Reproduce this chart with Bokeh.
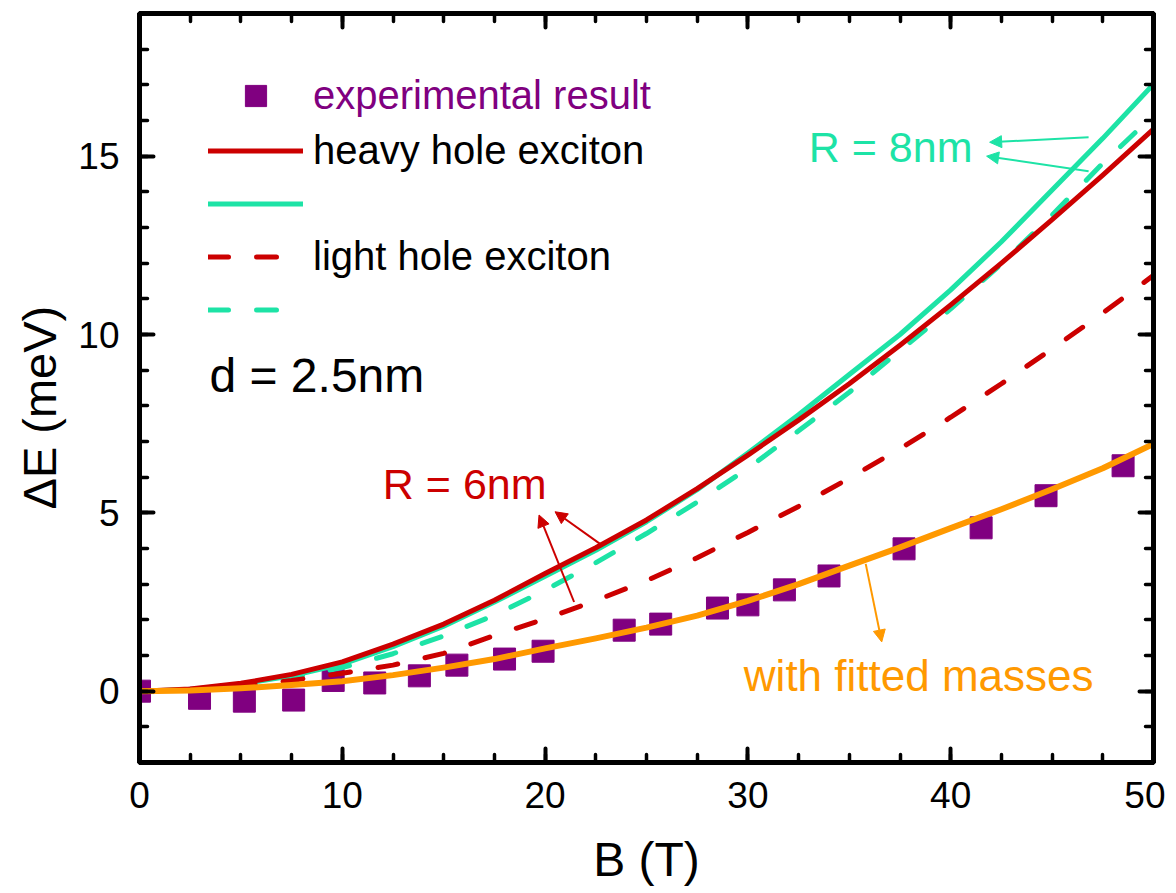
from bokeh.plotting import figure
from bokeh.models import (Range1d, FixedTicker, LinearAxis, Legend, LegendItem,
                          Label, Arrow, NormalHead, Title)
from bokeh.embed import file_html
from bokeh.resources import INLINE

# ---------------- data ----------------
B_exp = [0, 2.96, 5.17, 7.6, 9.55, 11.6, 13.8, 15.65, 18.0, 19.9, 23.9, 25.7,
         28.5, 30.0, 31.8, 34.0, 37.7, 41.5, 44.7, 48.5]
dE_exp = [0, -0.2, -0.28, -0.25, 0.3, 0.23, 0.43, 0.73, 0.9, 1.12, 1.71, 1.88,
          2.33, 2.42, 2.84, 3.23, 3.99, 4.58, 5.48, 6.32]

B_calc = [0, 2.5, 5, 7.5, 10, 12.5, 15, 17.5, 20, 22.5, 25, 27.5, 30, 32.5,
          35, 37.5, 40, 42.5, 45, 47.5, 50]
hh_R6 = [0, 0.06, 0.22, 0.47, 0.82, 1.32, 1.88, 2.55, 3.3, 4.02, 4.8, 5.68,
         6.62, 7.6, 8.62, 9.7, 10.83, 12.0, 13.22, 14.47, 15.76]
hh_R8 = [0, 0.05, 0.2, 0.43, 0.76, 1.25, 1.82, 2.5, 3.22, 3.95, 4.75, 5.65,
         6.68, 7.75, 8.88, 10.0, 11.25, 12.6, 14.05, 15.5, 17.02]
lh_R6 = [0, 0.03, 0.13, 0.3, 0.5, 0.73, 1.06, 1.56, 2.03, 2.54, 3.1, 3.74,
         4.45, 5.18, 5.97, 6.8, 7.68, 8.62, 9.6, 10.6, 11.66]
lh_R8 = [0, 0.04, 0.17, 0.38, 0.66, 1.05, 1.55, 2.13, 2.83, 3.6, 4.42, 5.3,
         6.25, 7.3, 8.38, 9.55, 10.72, 11.98, 13.35, 14.8, 16.15]
fitted = [0, 0.02, 0.08, 0.17, 0.28, 0.45, 0.66, 0.9, 1.2, 1.48, 1.78, 2.12,
          2.53, 3.0, 3.52, 4.03, 4.57, 5.1, 5.66, 6.25, 6.93]

x_major = [0, 10, 20, 30, 40, 50]
x_minor = [v * 2.5 for v in range(0, 21)]
y_major = [0, 5, 10, 15]
y_minor = list(range(-2, 20))

PURPLE = "#800080"
RED = "#CC0000"
GREEN = "#1DE3A6"
ORANGE = "#FF9900"
FONT = "Liberation Sans"

# ---------------- figure ----------------
p = figure(frame_width=1014, frame_height=749,
           x_range=Range1d(0, 50), y_range=Range1d(-2, 19),
           output_backend="svg", toolbar_location=None,
           min_border_left=138, min_border_top=13, min_border_right=12,
           min_border_bottom=10)
p.grid.visible = False
p.outline_line_color = "black"
p.outline_line_width = 5
p.background_fill_color = "white"
p.border_fill_color = "white"


def style_axis(ax, ticks, minor, show_labels=True):
    ax.ticker = FixedTicker(ticks=ticks, minor_ticks=minor)
    ax.axis_line_width = 5
    ax.axis_line_color = "black"
    ax.major_tick_in = 14
    ax.major_tick_out = 0
    ax.minor_tick_in = 8
    ax.minor_tick_out = 0
    ax.major_tick_line_width = 4
    ax.minor_tick_line_width = 3.5
    ax.major_tick_line_cap = "round"
    ax.minor_tick_line_cap = "round"
    ax.major_tick_line_color = "black"
    ax.minor_tick_line_color = "black"
    if show_labels:
        ax.major_label_text_font = FONT
        ax.major_label_text_font_size = "37px"
        ax.major_label_text_color = "black"
        ax.axis_label_text_font = FONT
        ax.axis_label_text_font_size = "48px"
        ax.axis_label_text_font_style = "normal"
        ax.axis_label_text_color = "black"
    else:
        ax.major_label_text_font_size = "1px"
        ax.major_label_text_color = None
        ax.major_label_standoff = 0
        ax.axis_label = None


style_axis(p.xaxis[0], x_major, x_minor)
style_axis(p.yaxis[0], y_major, y_minor)
p.xaxis[0].axis_label = "B (T)"
p.xaxis[0].major_label_standoff = 19
p.xaxis[0].axis_label_standoff = 22
p.yaxis[0].major_label_standoff = 20
p.yaxis[0].axis_label = None

top_ax = LinearAxis()
style_axis(top_ax, x_major, x_minor, show_labels=False)
p.add_layout(top_ax, "above")
right_ax = LinearAxis()
style_axis(right_ax, y_major, y_minor, show_labels=False)
p.add_layout(right_ax, "right")

# y-axis title, placed as in the reference (a little below the axis centre)
p.add_layout(Title(text="ΔE (meV)", align="left", offset=253, standoff=20,
                   text_font=FONT, text_font_size="47px",
                   text_font_style="normal", text_color="black"), "left")

# ---------------- data glyphs ----------------
r_exp = p.scatter(B_exp, dE_exp, marker="square", size=22, fill_color=PURPLE,
                  line_color=PURPLE)
r_g = p.line(B_calc, hh_R8, line_color=GREEN, line_width=5, line_cap="round",
             line_join="round")
r_gd = p.line(B_calc, lh_R8, line_color=GREEN, line_width=5, line_cap="round",
              line_dash="20 28")
r_rd = p.line(B_calc, lh_R6, line_color=RED, line_width=5, line_cap="round",
              line_dash="20 28")
r_r = p.line(B_calc, hh_R6, line_color=RED, line_width=5, line_cap="round",
             line_join="round")
r_o = p.line(B_calc, fitted, line_color=ORANGE, line_width=6, line_cap="round",
             line_join="round")

# ---------------- legends ----------------
common = dict(label_text_font=FONT, label_text_font_size="40px",
              glyph_width=95, glyph_height=53, label_height=53, spacing=0,
              padding=0, margin=0, label_standoff=10,
              border_line_color=None, background_fill_alpha=0)
leg1 = Legend(items=[LegendItem(label="experimental result", renderers=[r_exp])],
              location=(69, 640), label_text_color=PURPLE, **common)
leg2 = Legend(items=[LegendItem(label="heavy hole exciton", renderers=[r_r]),
                     LegendItem(label=" ", renderers=[r_g]),
                     LegendItem(label="light hole exciton", renderers=[r_rd]),
                     LegendItem(label=" ", renderers=[r_gd])],
              location=(69, 426), label_text_color="black", **common)
p.add_layout(leg1)
p.add_layout(leg2)

# ---------------- annotations ----------------
p.add_layout(Label(x=3.45, y=8.85, text="d = 2.5nm", text_font=FONT,
                   text_font_size="48px", text_color="black",
                   text_baseline="middle"))
p.add_layout(Label(x=33.0, y=15.25, text="R = 8nm", text_font=FONT,
                   text_font_size="43px", text_color=GREEN,
                   text_baseline="middle"))
p.add_layout(Label(x=12.0, y=5.82, text="R = 6nm", text_font=FONT,
                   text_font_size="43px", text_color=RED,
                   text_baseline="middle"))
p.add_layout(Label(x=29.8, y=0.43, text="with fitted masses", text_font=FONT,
                   text_font_size="44px", text_color=ORANGE,
                   text_baseline="middle"))


def arrow(x0, y0, x1, y1, color):
    p.add_layout(Arrow(x_start=x0, y_start=y0, x_end=x1, y_end=y1,
                       line_color=color, line_width=2,
                       end=NormalHead(size=12, fill_color=color,
                                      line_color=color, line_width=1)))


arrow(46.8, 15.53, 41.92, 15.39, GREEN)
arrow(46.8, 14.58, 41.77, 15.0, GREEN)
arrow(22.71, 4.13, 20.49, 5.03, RED)
arrow(21.43, 2.5, 19.70, 4.94, RED)
arrow(35.81, 3.57, 36.6, 1.38, ORANGE)

open("out.html", "w").write(file_html(p, INLINE))
